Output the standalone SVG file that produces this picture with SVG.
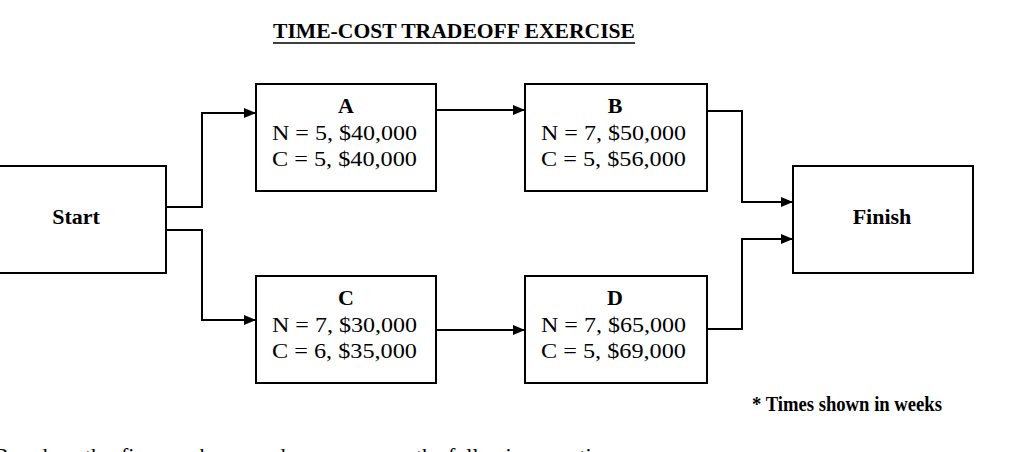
<svg xmlns="http://www.w3.org/2000/svg" width="1022" height="452" viewBox="0 0 1022 452">
<defs>
<style>
.box{fill:#fff;stroke:#000;stroke-width:2}
.t{font-family:"Liberation Serif","Times New Roman",serif;font-size:22px;fill:#000}
.m{text-anchor:middle}
.b{font-weight:bold}
.conn{fill:none;stroke:#000;stroke-width:2}
</style>
<marker id="ah" markerUnits="userSpaceOnUse" markerWidth="12" markerHeight="10" refX="11" refY="5" orient="auto"><path d="M0,0 L12,5 L0,10 Z" fill="#000"/></marker>
</defs>
<rect width="1022" height="452" fill="#fff"/>
<g id="title">
<text class="t b" x="273" y="38" font-size="21" textLength="362" lengthAdjust="spacingAndGlyphs">TIME-COST TRADEOFF EXERCISE</text>
<line x1="273" y1="43" x2="635" y2="43" stroke="#000" stroke-width="1.5"/>
</g>
<g id="connectors">
<path class="conn" d="M166,207 H202 V113 H255" marker-end="url(#ah)"/>
<path class="conn" d="M166,230 H202 V320 H255" marker-end="url(#ah)"/>
<path class="conn" d="M436,110 H524" marker-end="url(#ah)"/>
<path class="conn" d="M436,330 H524" marker-end="url(#ah)"/>
<path class="conn" d="M707,111 H742 V202 H792" marker-end="url(#ah)"/>
<path class="conn" d="M707,329 H742 V239 H792" marker-end="url(#ah)"/>
</g>
<g id="start">
<rect class="box" x="-1" y="166" width="167" height="107"/>
<text class="t b m" x="76" y="224" font-size="22">Start</text>
</g>
<g id="finish">
<rect class="box" x="793" y="166" width="180" height="107"/>
<text class="t b m" x="882" y="224" font-size="22">Finish</text>
</g>
<g id="nodeA">
<rect class="box" x="256" y="84" width="180" height="107"/>
<text class="t b m" x="346" y="113">A</text>
<text class="t" x="272" y="140" textLength="145" lengthAdjust="spacingAndGlyphs">N = 5, $40,000</text>
<text class="t" x="272" y="166" textLength="145" lengthAdjust="spacingAndGlyphs">C = 5, $40,000</text>
</g>
<g id="nodeB">
<rect class="box" x="525" y="84" width="182" height="107"/>
<text class="t b m" x="615" y="113">B</text>
<text class="t" x="541" y="140" textLength="145" lengthAdjust="spacingAndGlyphs">N = 7, $50,000</text>
<text class="t" x="541" y="166" textLength="145" lengthAdjust="spacingAndGlyphs">C = 5, $56,000</text>
</g>
<g id="nodeC">
<rect class="box" x="256" y="276" width="180" height="107"/>
<text class="t b m" x="346" y="305">C</text>
<text class="t" x="272" y="332" textLength="145" lengthAdjust="spacingAndGlyphs">N = 7, $30,000</text>
<text class="t" x="272" y="358" textLength="145" lengthAdjust="spacingAndGlyphs">C = 6, $35,000</text>
</g>
<g id="nodeD">
<rect class="box" x="525" y="276" width="182" height="107"/>
<text class="t b m" x="615" y="305">D</text>
<text class="t" x="541" y="332" textLength="145" lengthAdjust="spacingAndGlyphs">N = 7, $65,000</text>
<text class="t" x="541" y="358" textLength="145" lengthAdjust="spacingAndGlyphs">C = 5, $69,000</text>
</g>
<g id="note">
<text class="t b" x="752" y="411" font-size="18.5" textLength="190" lengthAdjust="spacingAndGlyphs">* Times shown in weeks</text>
</g>
<g id="footer">
<text class="t" y="463" font-size="22"><tspan x="-6">Based</tspan><tspan x="53">on</tspan><tspan x="85">the</tspan><tspan x="121">figure</tspan><tspan x="190">above</tspan><tspan x="254">and</tspan><tspan x="290">answer</tspan><tspan x="416">the</tspan><tspan x="448">following</tspan><tspan x="539">questions</tspan></text>
</g>
</svg>
